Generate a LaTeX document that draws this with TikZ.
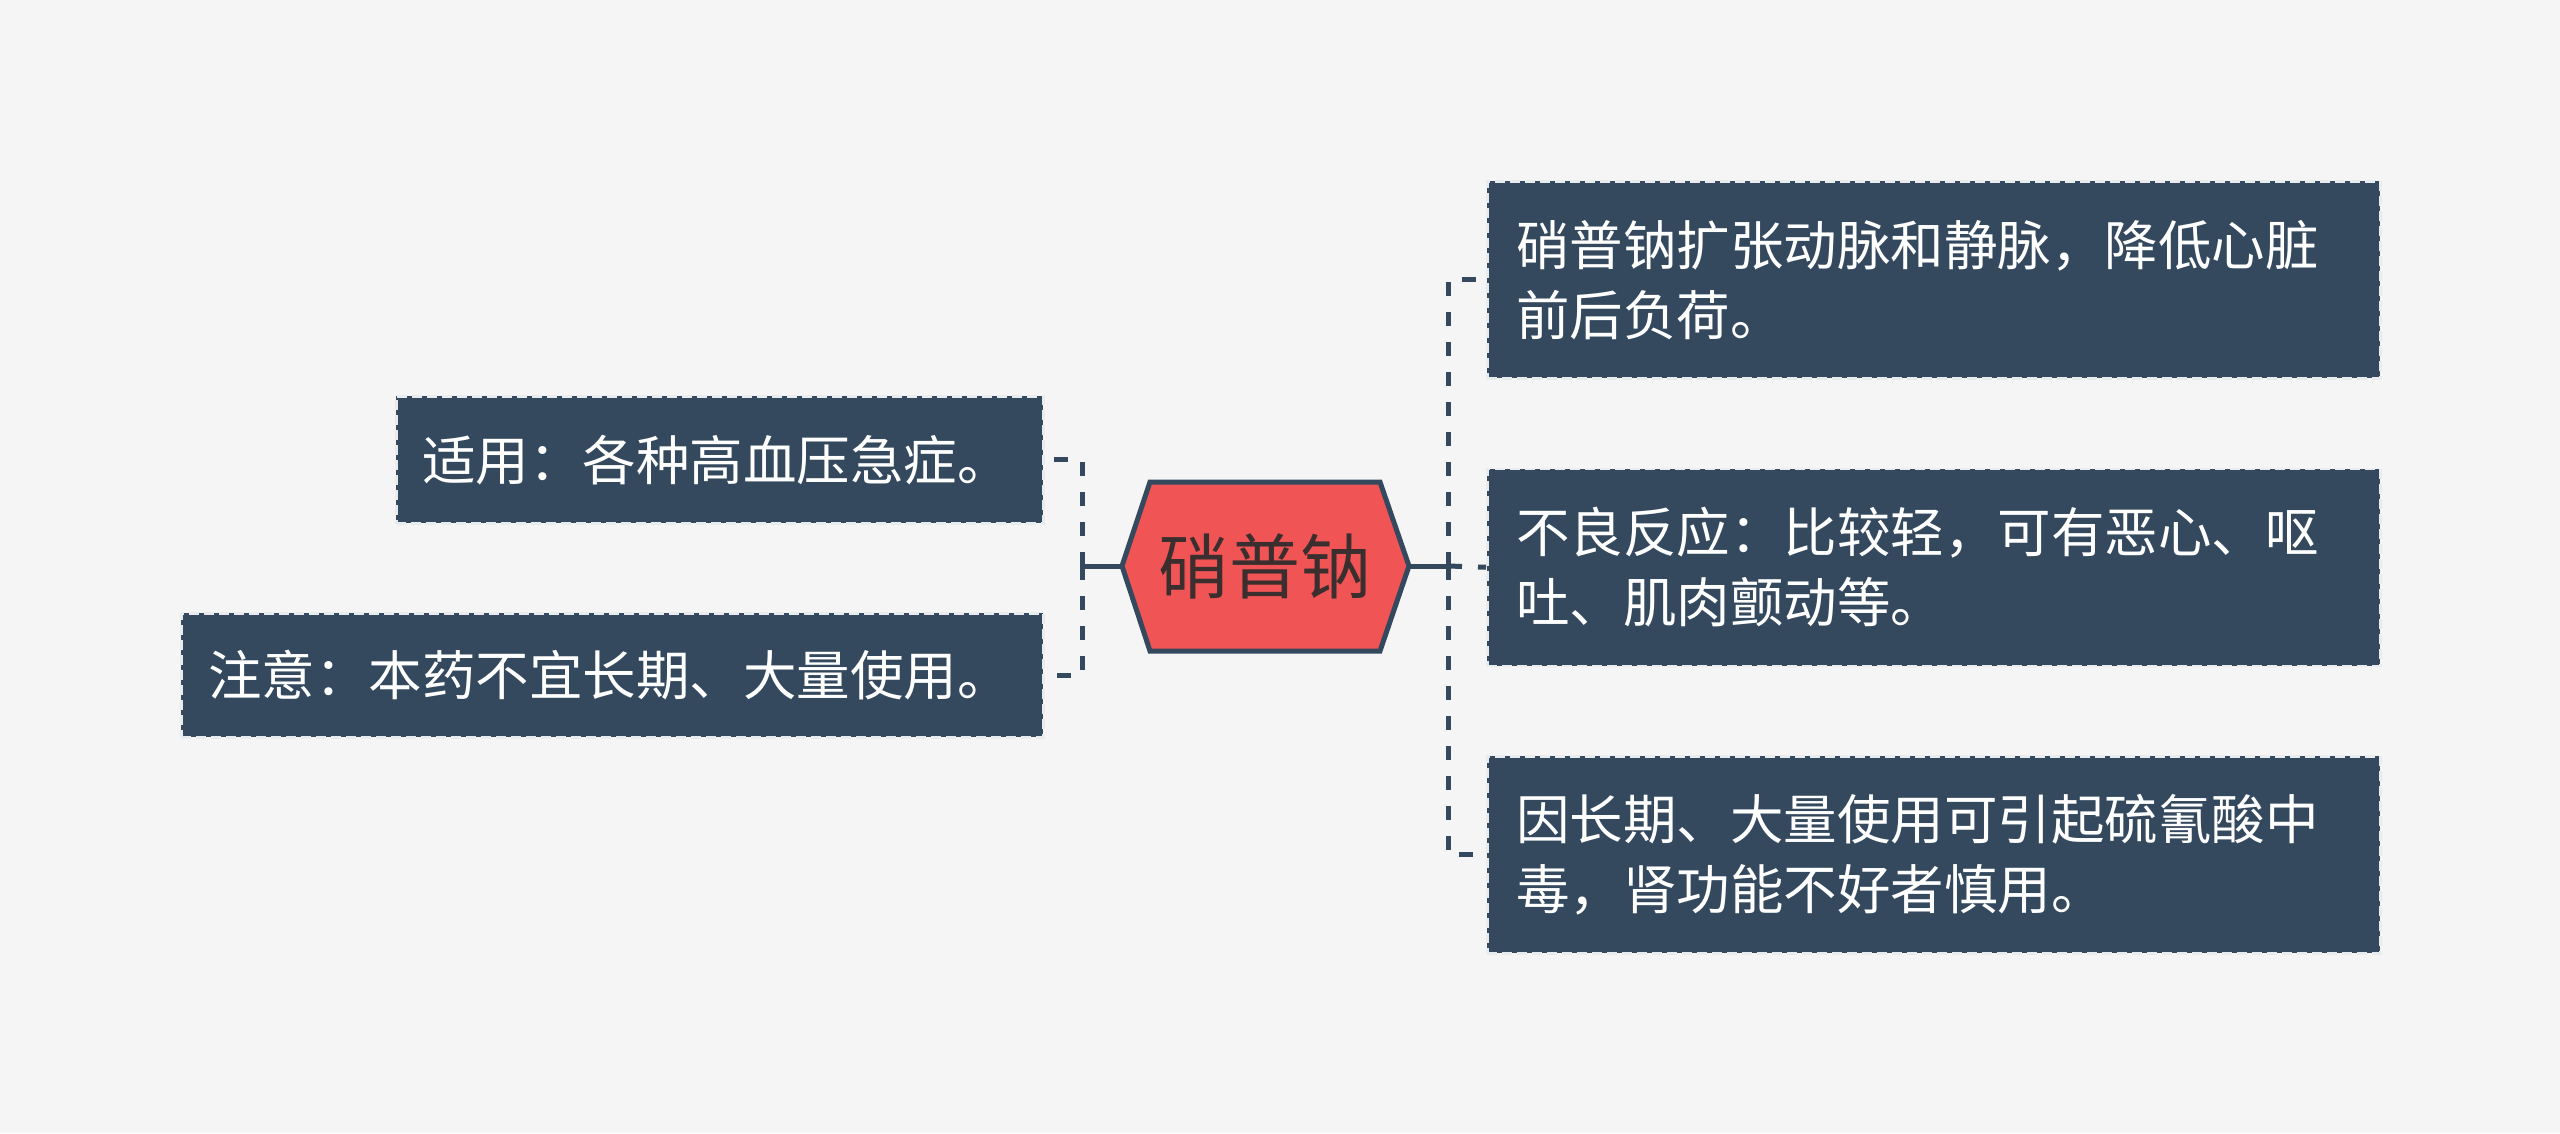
\documentclass[tikz,border=0pt]{standalone}
\usepackage{fontspec}
\setmainfont{Noto Sans CJK SC}
\definecolor{bg}{HTML}{F5F5F5}
\definecolor{boxc}{HTML}{34495E}
\definecolor{edgec}{HTML}{E9ECEF}
\definecolor{rootc}{HTML}{F05455}
\definecolor{roottext}{HTML}{3B2E2E}
\tikzset{
  leaf/.style={fill=boxc, draw=edgec, line width=2.5pt, dash pattern=on 10pt off 5pt,
    text=white, align=left, anchor=north west, inner ysep=0pt,
    font=\fontsize{53.5}{70}\selectfont},
  conn/.style={draw=boxc, line width=5pt, line cap=butt},
  dconn/.style={conn, dash pattern=on 14pt off 16pt},
}
\begin{document}
\begin{tikzpicture}[x=1pt,y=-1pt]
\useasboundingbox (0,0) rectangle (2560,1133);
\fill[bg] (0,0) rectangle (2560,1133);

% root hexagon
\coordinate (hexL) at (1122,566);
\coordinate (hexR) at (1409,566);
\filldraw[fill=rootc, draw=boxc, line width=5pt, line join=miter]
  (hexL) -- (1150,482) -- (1380,482) -- (hexR) -- (1380,651) -- (1150,651) -- cycle;
\node[text=roottext, font=\fontsize{71}{80}\selectfont, inner sep=0pt] (root) at (1265,566) {硝普钠};

% left leaves
\node[leaf, minimum width=647pt, minimum height=127pt, inner xsep=26pt, text width=595pt]
  (l1) at (395,395) {适用：各种高血压急症。};
\node[leaf, minimum width=862pt, minimum height=124pt, inner xsep=27pt, text width=808pt]
  (l2) at (180,612) {注意：本药不宜长期、大量使用。};

% right leaves
\node[leaf, minimum width=893pt, minimum height=197pt, inner xsep=29pt, text width=835pt]
  (r1) at (1486,180) {硝普钠扩张动脉和静脉，降低心脏\\前后负荷。};
\node[leaf, minimum width=893pt, minimum height=197pt, inner xsep=29pt, text width=835pt]
  (r2) at (1486,467.5) {不良反应：比较轻，可有恶心、呕\\吐、肌肉颤动等。};
\node[leaf, minimum width=893pt, minimum height=197pt, inner xsep=29pt, text width=835pt]
  (r3) at (1486,755) {因长期、大量使用可引起硫氰酸中\\毒，肾功能不好者慎用。};

% connectors
\coordinate (jL) at (1082,566);
\coordinate (jR) at (1448,566);
\draw[conn] (hexL) -- (jL);
\draw[dconn] (jL) |- (l1.east);
\draw[dconn] (jL) |- (l2.east);
\draw[conn] (hexR) -- (jR);
\draw[dconn] (jR) |- (r1.west);
\draw[dconn] (jR) -- (r2.west);
\draw[dconn] (jR) |- (r3.west);
\end{tikzpicture}
\end{document}
